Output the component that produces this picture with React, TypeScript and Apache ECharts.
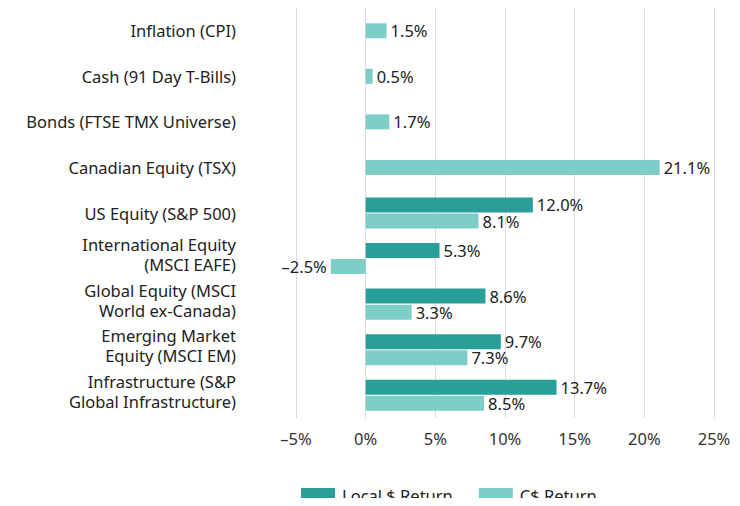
import React, { useEffect, useRef } from "react";
import * as echarts from "echarts";

const categories = [
  "Inflation (CPI)",
  "Cash (91 Day T-Bills)",
  "Bonds (FTSE TMX Universe)",
  "Canadian Equity (TSX)",
  "US Equity (S&P 500)",
  "International Equity\n(MSCI EAFE)",
  "Global Equity (MSCI\nWorld ex-Canada)",
  "Emerging Market\nEquity (MSCI EM)",
  "Infrastructure (S&P\nGlobal Infrastructure)",
];

// Paired rows (null where the row only has a single C$ bar)
const localReturn = [null, null, null, null, 12.0, 5.3, 8.6, 9.7, 13.7];
const cadReturn = [null, null, null, null, 8.1, -2.5, 3.3, 7.3, 8.5];
// Single-bar rows (centered in their band)
const cadSingle = [1.5, 0.5, 1.7, 21.1, null, null, null, null, null];

const xTicks = { min: -5, max: 25, interval: 5 };

const DARK = "#2a9f9a";
const LIGHT = "#7ecec8";
const FONT = "Noto Sans";

const fmt = (v: number) => (v < 0 ? "–" : "") + Math.abs(v).toFixed(1) + "%";

export default function App() {
  const ref = useRef<HTMLDivElement>(null);
  useEffect(() => {
    if (!ref.current) return;
    const chart = echarts.init(ref.current, undefined, { renderer: "svg" });
    const label = {
      show: true,
      position: "right" as const,
      distance: 4,
      fontFamily: FONT,
      fontSize: 16.5,
      color: "#222",
      formatter: (p: any) => fmt(p.value),
    };
    const mk = (arr: (number | null)[]) =>
      arr.map((v) =>
        v === null
          ? null
          : v < 0
          ? { value: v, label: { position: "left" as const } }
          : v
      );
    chart.setOption({
      animation: false,
      textStyle: { fontFamily: FONT },
      grid: { left: 296, right: 26, top: 8, bottom: 88, containLabel: false },
      xAxis: {
        type: "value",
        min: xTicks.min,
        max: xTicks.max,
        interval: xTicks.interval,
        axisLabel: {
          formatter: (v: number) => (v < 0 ? "–" : "") + Math.abs(v) + "%",
          fontFamily: FONT,
          fontSize: 16.5,
          color: "#333",
          margin: 12,
        },
        splitLine: { lineStyle: { color: "#dcdcdc", width: 1 } },
        axisLine: { show: false },
        axisTick: { show: false },
      },
      yAxis: [
        {
          type: "category",
          data: categories,
          inverse: true,
          axisLine: { show: false },
          axisTick: { show: false },
          axisLabel: {
            interval: 0,
            fontFamily: FONT,
            fontSize: 16.5,
            color: "#222",
            margin: 60,
            lineHeight: 20,
            align: "right",
            formatter: (v: string) => (v.includes("\n") ? v + "\n{s| }" : v),
            rich: { s: { fontSize: 1, lineHeight: 8 } },
          },
        },
        {
          type: "category",
          data: categories,
          inverse: true,
          show: false,
        },
      ],
      legend: {
        data: ["Local $ Return", "C$ Return"],
        left: 296,
        top: 482,
        itemWidth: 34,
        itemHeight: 15,
        itemGap: 26,
        icon: "rect",
        textStyle: { fontFamily: FONT, fontSize: 16.5, color: "#222", padding: [0, 0, 0, 2] },
      },
      series: [
        {
          name: "Local $ Return",
          type: "bar",
          data: mk(localReturn),
          itemStyle: { color: DARK },
          barWidth: 15,
          barGap: "7%",
          label,
        },
        {
          name: "C$ Return",
          type: "bar",
          data: mk(cadReturn),
          itemStyle: { color: LIGHT },
          barWidth: 15,
          barGap: "7%",
          label,
        },
        {
          name: "C$ Return",
          type: "bar",
          yAxisIndex: 1,
          data: mk(cadSingle),
          itemStyle: { color: LIGHT },
          barWidth: 15,
          label,
        },
      ],
    });
    return () => chart.dispose();
  }, []);
  return <div ref={ref} style={{ width: 740, height: 506, margin: -8 }} />;
}
